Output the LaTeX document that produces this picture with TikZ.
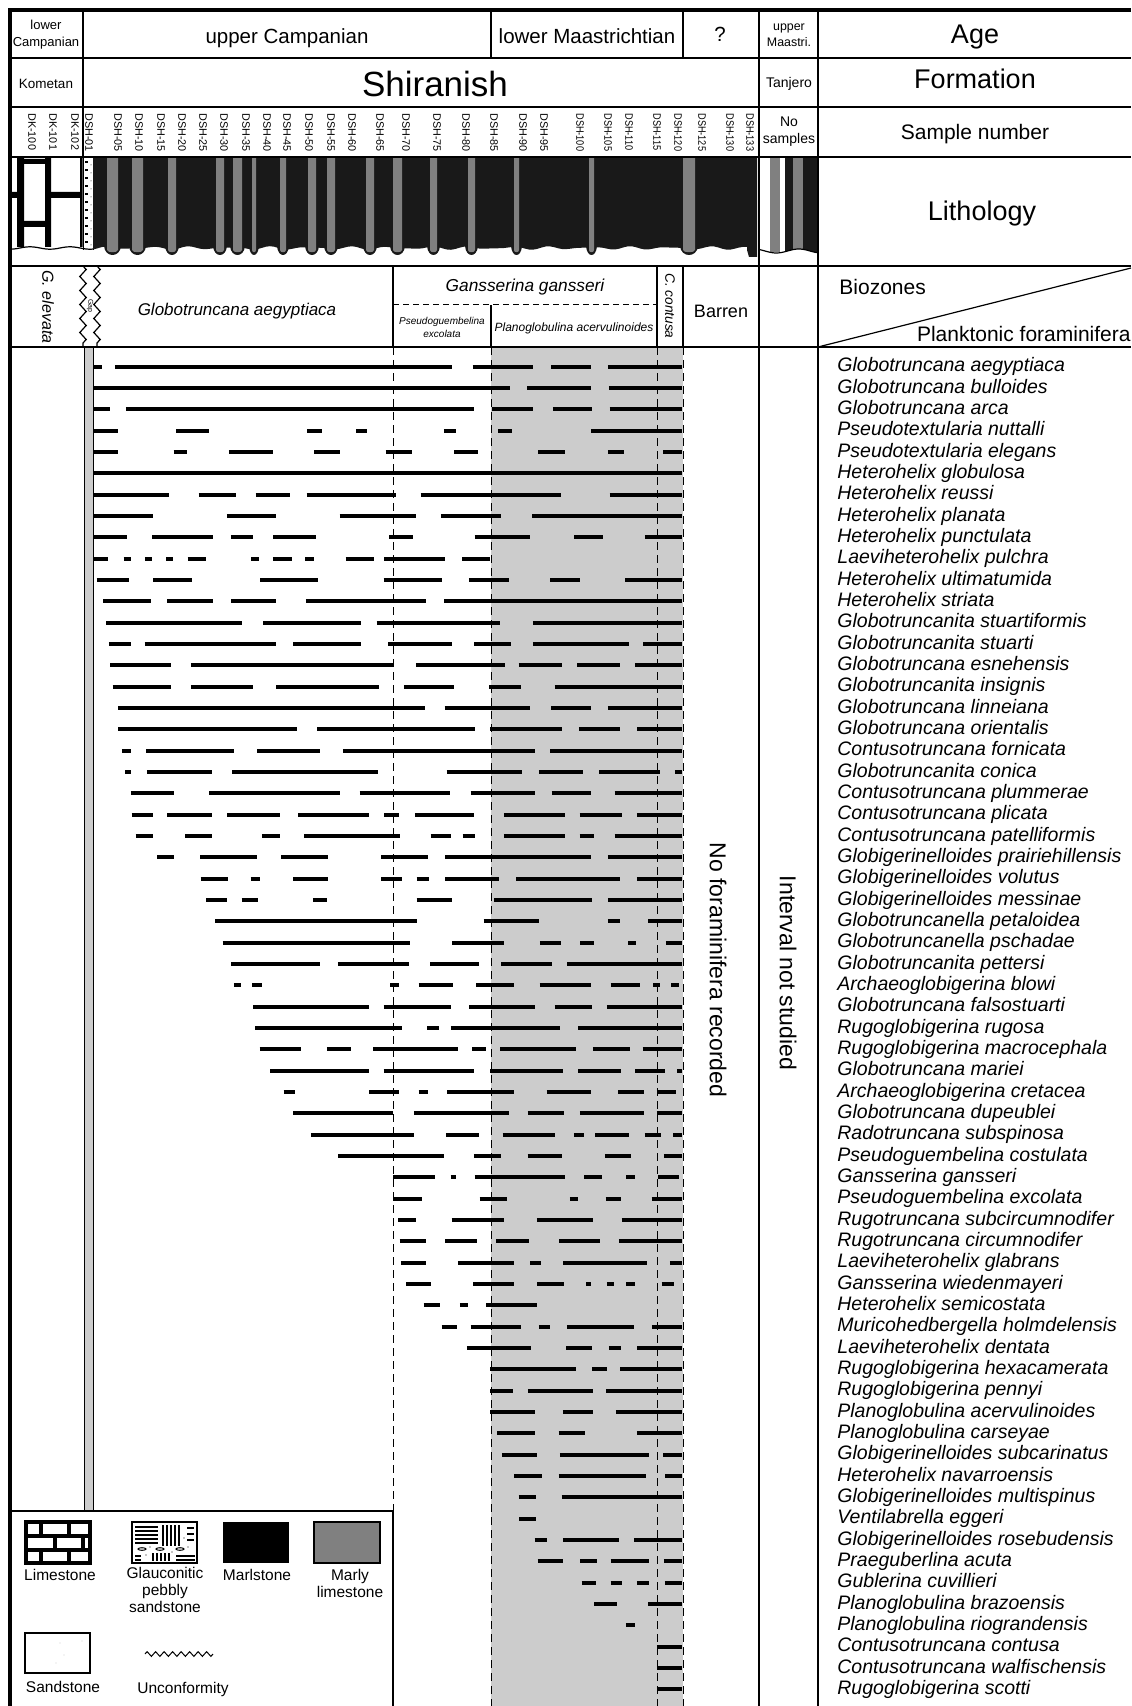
\documentclass[tikz,border=0pt]{standalone}
\usepackage{fontspec}
\setmainfont{Liberation Sans}
\usetikzlibrary{decorations.pathmorphing}
\newcommand{\myfs}[1]{\fontsize{#1pt}{#1pt}\selectfont}
\definecolor{zoneshade}{gray}{0.8}
\definecolor{mgrey}{gray}{0.5}
\definecolor{mblack}{gray}{0.1}
\begin{document}
\begin{tikzpicture}[x=0.5pt,y=-0.5pt,
  rng/.style={line width=2pt},
  bline/.style={line width=1pt},
  thinl/.style={line width=0.6pt},
  outer/.style={line width=2pt},
  dln/.style={line width=0.5pt,dash pattern=on 4pt off 2.5pt},
  lab/.style={inner sep=0pt,align=center},
  smp/.style={inner sep=0pt,rotate=-90,anchor=west,font=\myfs{5.4}},
  spc/.style={inner sep=0pt,anchor=west,text height=7.2pt,text depth=2pt,font=\myfs{9.75}\itshape},
  limeline/.style={line width=1.6pt},
  wavy/.style={decorate,decoration={zigzag,segment length=7pt,amplitude=1.6pt}},
]
\useasboundingbox (0,0) rectangle (1131,1706);
\fill[white] (0,0) rectangle (1131,1706);

% grey shading of zone
\fill[zoneshade] (491,347) rectangle (683,1706);

% ---------- Lithology ----------
% Kometan limestone (brick pattern)
\fill[black] (17,158) rectangle (24,247) (45,158) rectangle (51,247) (80,158) rectangle (82.5,247);
\fill[black] (24,159) rectangle (45,164) (10,192) rectangle (17,198) (51,192) rectangle (80,198) (24,221) rectangle (45,227);
\draw[thinl] plot[domain=10:93,samples=40] (\x,{248+1.2*sin(9*\x)});
% glauconitic sandstone column
\draw[line width=0.4pt] (83,157) -- (83,250) (93,157) -- (93,250);
\foreach \yy in {162,170,178,186,194,202,210,218,226,234,242}{
  \draw[line width=0.6pt] (85,\yy) -- (88,\yy);
  \fill (91,\yy+3) circle (0.5);
}
% marlstone
\fill[mblack] (93,157) -- (757,157) -- (757,257) -- (749,257) -- (747,250)
  -- plot[domain=747:93,samples=160] (\x,{248+1.1*sin(9*\x)+0.7*sin(13*\x)}) -- cycle;
\foreach \a/\b in {107/118,132/143,168/176,216/224,233/242,252/256,280/286,308/316,327/335,366/374,393/402,430/437,468/475,514/519,589/594,683/695}{
  \fill[mblack] (\a-3,246) .. controls (\a-2,258) and (\b+2,258) .. (\b+3,246) -- cycle;
  \fill[mgrey] (\a,157) -- (\b,157) -- (\b,250) .. controls (\b,253) and (\a,253) .. (\a,250) -- cycle;
}
% Tanjero
\fill[mgrey] (770,157) rectangle (780,252);
\fill[mblack] (785,157) rectangle (793,252);
\fill[mgrey] (793,157) rectangle (803,252);
\fill[mblack] (803,157) rectangle (817,252);
\fill[white] plot[domain=759:818,samples=30] (\x,{251+2*sin(8*\x)}) -- (818,262) -- (759,262) -- cycle;
\draw[thinl] plot[domain=759:818,samples=30] (\x,{251+2*sin(8*\x)});

% ---------- range chart ----------
\fill[zoneshade] (84,347) rectangle (93,1511);
\draw[line width=0.5pt] (84,347) -- (84,1511) (93,347) -- (93,1511);

\foreach \r/\segs in {
1/{35/57,90/957,1010/1165,1212/1315,1358/1548},
2/{35/1105,1150/1315,1360/1548},
3/{35/78,118/1013,1060/1165,1216/1318,1362/1548},
4/{35/97,248/332,584/623,710/738,936/968,1076/1111,1315/1548},
5/{35/98,241/275,383/496,602/670,786/853,962/1023,1179/1247,1358/1398,1500/1548},
6/{35/1548},
7/{35/229,305/401,452/541,583/814,876/1238,1362/1548},
8/{35/188,378/503,668/865,928/1084,1163/1548},
9/{35/122,186/342,388/444,497/608,795/856,1015/1158,1271/1345,1453/1548},
10/{35/73,112/130,167/185,222/240,277/323,441/460,496/544,579/602,683/755,782/940,983/1055},
11/{43/126,189/287,464/611,781/931,1000/1104,1210/1287,1402/1548},
12/{60/182,225/343,389/503,581/889,937/1548},
13/{68/416,471/723,763/1081,1165/1548},
14/{74/130,166/503,549/723,793/957,1014/1109,1165/1411,1449/1548},
15/{78/233,285/808,864/1093,1128/1240,1279/1388,1427/1548},
16/{84/234,285/444,505/769,833/963,1052/1135,1221/1548},
17/{98/887,938/1158,1212/1315,1358/1548},
18/{98/558,610/1017,1055/1240,1283/1390,1433/1548},
19/{108/130,170/396,456/617,676/1171,1210/1548},
20/{117/132,172/339,391/766,943/1138,1180/1295,1335/1493,1530/1548},
21/{131/241,333/669,719/952,1005/1171,1213/1315,1375/1548},
22/{133/188,225/339,379/514,561/743,782/820,861/1013,1090/1247,1285/1395,1432/1548},
23/{143/188,271/339,468/515,577/822,902/954,984/1015,1090/1247,1285/1323,1375/1548},
24/{199/241,309/456,518/639,775/896,940/1315,1358/1548},
25/{310/381,439/462,548/637,775/827,866/897,940/1078,1122/1388,1432/1548},
26/{325/378,416/458,599/636,866/956,1065/1318,1358/1548},
27/{348/868,1038/1180,1358/1390,1462/1548},
28/{367/850,958/1090,1183/1236,1287/1323,1410/1431,1507/1548},
29/{389/616,663/847,901/1027,1083/1214,1253/1548},
30/{396/414,443/469,798/821,871/960,1019/1116,1182/1314,1365/1440,1474/1492,1521/1540},
31/{445/743,781/954,1001/1170,1221/1318,1355/1548},
32/{451/827,893/923,954/1235,1281/1548},
33/{462/568,635/698,754/973,1009/1043,1081/1277,1319/1415,1447/1548},
34/{489/744,781/1013,1055/1242,1282/1392,1428/1505,1536/1548},
35/{524/552,744/820,871/896,945/1116,1200/1314,1384/1451,1484/1533},
36/{548/806,859/1103,1151/1246,1286/1451,1484/1548},
37/{594/859,941/1027,1087/1222,1270/1297,1325/1411,1452/1495,1526/1548},
38/{664/935,1013/1082,1151/1240,1350/1417,1502/1548},
39/{806/913,953/968,1015/1247,1297/1343,1405/1427,1487/1540},
40/{806/880,1028/1098,1260/1282,1352/1392,1470/1548},
41/{819/864,956/1090,1175/1320,1393/1548},
42/{822/889,939/1022,1071/1156,1233/1338,1386/1548},
43/{825/890,972/1117,1158/1185,1243/1458,1517/1548},
44/{839/904,1012/1117,1176/1246,1302/1314,1355/1374,1405/1427,1496/1528},
45/{884/927,977/999,1045/1176},
46/{930/970,1005/1135,1180/1210,1252/1426,1471/1548},
47/{995/1161,1250/1317,1360/1391,1433/1548},
48/{1055/1275,1317/1356,1390/1548},
49/{1055/1113,1152/1320,1353/1548},
50/{1055/1171,1242/1319,1378/1548},
51/{1073/1171,1231/1298,1432/1548},
52/{1085/1175,1234/1464,1500/1548},
53/{1117/1188,1231/1456,1505/1548},
54/{1128/1174,1239/1548},
55/{1130/1174},
56/{1169/1201,1242/1386,1425/1548},
57/{1177/1241,1287/1331,1365/1463,1502/1548},
58/{1290/1327,1365/1395,1432/1463,1504/1548},
59/{1323/1380,1461/1548},
60/{1404/1427},
61/{1484/1548},
62/{1484/1548},
63/{1484/1548}}{
  \pgfmathsetmacro{\yy}{366.7+(\r-1)*21.33}
  \foreach \a/\b in \segs {
    \draw[rng] ({80+0.3888*\a},\yy) -- ({80+0.3888*\b},\yy);
  }
}

% dashed zone boundaries
\draw[dln] (393,347) -- (393,1511);
\draw[dln] (491,347) -- (491,1706);
\draw[dln] (657,347) -- (657,1706);
\draw[dln] (683,347) -- (683,1706);

% ---------- grid ----------
\draw[bline] (10,58) -- (1131,58);
\draw[bline] (10,107) -- (1131,107);
\draw[bline] (10,157) -- (1131,157);
\draw[bline] (10,266) -- (1131,266);
\draw[bline] (10,347) -- (1131,347);
\draw[bline] (83,10) -- (83,157);
\draw[bline] (759,10) -- (759,1706);
\draw[bline] (818,10) -- (818,1706);
\draw[bline] (491,10) -- (491,58);
\draw[bline] (683,10) -- (683,58);
\draw[bline] (393,266) -- (393,347);
\draw[bline] (657,266) -- (657,347);
\draw[bline] (683,266) -- (683,347);
\draw[bline] (491,305) -- (491,347);
\draw[line width=0.5pt,dash pattern=on 3pt off 2pt] (393,305) -- (657,305);
\draw[thinl] (818,347) -- (1131,268);
\draw[thinl,wavy] (83,266) -- (83,347);
\draw[thinl,wavy] (97,266) -- (97,347);
% legend frame
\draw[bline] (10,1511) -- (393,1511) -- (393,1706);
% outer border
\draw[outer] (10,1706) -- (10,10) -- (1131,10);

% ---------- header texts ----------
\node[lab,font=\fontsize{6.5pt}{8.5pt}\selectfont] (t1) at (46,35) {lower\\Campanian};
\node[lab,font=\myfs{10.25}] (t2) at (287,38) {upper Campanian};
\node[lab,font=\myfs{10.25}] (t3) at (587,36) {lower Maastrichtian};
\node[lab,font=\myfs{10.25}] (t4) at (720,34) {?};
\node[lab,font=\fontsize{6.2pt}{8pt}\selectfont] (t5) at (789,35) {upper\\Maastri.};
\node[lab,font=\myfs{13.5}] (t6) at (975,37) {Age};
\node[lab,font=\myfs{6.75}] (t7) at (46,84) {Kometan};
\node[lab,font=\myfs{17.5}] (t8) at (435,84) {Shiranish};
\node[lab,font=\myfs{7}] (t9) at (789,84) {Tanjero};
\node[lab,font=\myfs{13.5}] (t10) at (975,79) {Formation};
\node[lab,font=\fontsize{7pt}{8.5pt}\selectfont] (t11) at (789,132) {No\\samples};
\node[lab,font=\myfs{10.5}] (t12) at (975,134) {Sample number};
\node[lab,font=\myfs{13.5}] (t13) at (982,214) {Lithology};
\node[lab,font=\myfs{10.5},anchor=west] (t14) at (839,287) {Biozones};
\node[lab,font=\myfs{10.5},anchor=east] (t15) at (1131,334) {Planktonic foraminifera};

\foreach \x/\t [count=\k] in {32/DK-100,53/DK-101,75/DK-102,89/DSH-01,118/DSH-05,139/DSH-10,161/DSH-15,182/DSH-20,203/DSH-25,224/DSH-30,246/DSH-35,267/DSH-40,287/DSH-45,309/DSH-50,331/DSH-55,352/DSH-60,380/DSH-65,406/DSH-70,437/DSH-75,466/DSH-80,494/DSH-85,523/DSH-90,544/DSH-95}
  \node[smp] (smp\k) at (\x,113) {\t};
\foreach \x/\t [count=\k] in {580/DSH-100,608/DSH-105,629/DSH-110,657/DSH-115,678/DSH-120,702/DSH-125,730/DSH-130,750/DSH-133}
  \node[smp] (smq\k) at (\x,113) {\scalebox{0.85}[1]{\t}};

% biozone texts
\node[lab,rotate=-90,font=\myfs{8}\itshape] (z1) at (48,307) {G. elevata};
\node[lab,rotate=-90,font=\myfs{3.5}] (z0) at (90,306) {Gap};
\node[lab,font=\myfs{8.5}\itshape] (z2) at (237,311) {Globotruncana aegyptiaca};
\node[lab,font=\myfs{8.65}\itshape] (z3) at (525,287) {Gansserina gansseri};
\node[lab,font=\fontsize{5pt}{6.5pt}\selectfont\itshape] (z4) at (442,327) {Pseudoguembelina\\excolata};
\node[lab,font=\myfs{6}\itshape] (z5) at (574,328) {Planoglobulina acervulinoides};
\node[lab,rotate=-90,font=\myfs{6.8}\itshape] (z6) at (670,306) {C. contusa};
\node[lab,font=\myfs{9}] (z7) at (721,311) {Barren};
\node[lab,rotate=-90,font=\myfs{11.5}] (z8) at (718,970) {No foraminifera recorded};
\node[lab,rotate=-90,font=\myfs{11.5}] (z9) at (788,973) {Interval not studied};

% species names
\foreach \n [count=\i] in {Globotruncana aegyptiaca,Globotruncana bulloides,Globotruncana arca,Pseudotextularia nuttalli,Pseudotextularia elegans,Heterohelix globulosa,Heterohelix reussi,Heterohelix planata,Heterohelix punctulata,Laeviheterohelix pulchra,Heterohelix ultimatumida,Heterohelix striata,Globotruncanita stuartiformis,Globotruncanita stuarti,Globotruncana esnehensis,Globotruncanita insignis,Globotruncana linneiana,Globotruncana orientalis,Contusotruncana fornicata,Globotruncanita conica,Contusotruncana plummerae,Contusotruncana plicata,Contusotruncana patelliformis,Globigerinelloides prairiehillensis,Globigerinelloides volutus,Globigerinelloides messinae,Globotruncanella petaloidea,Globotruncanella pschadae,Globotruncanita pettersi,Archaeoglobigerina blowi,Globotruncana falsostuarti,Rugoglobigerina rugosa,Rugoglobigerina macrocephala,Globotruncana mariei,Archaeoglobigerina cretacea,Globotruncana dupeublei,Radotruncana subspinosa,Pseudoguembelina costulata,Gansserina gansseri,Pseudoguembelina excolata,Rugotruncana subcircumnodifer,Rugotruncana circumnodifer,Laeviheterohelix glabrans,Gansserina wiedenmayeri,Heterohelix semicostata,Muricohedbergella holmdelensis,Laeviheterohelix dentata,Rugoglobigerina hexacamerata,Rugoglobigerina pennyi,Planoglobulina acervulinoides,Planoglobulina carseyae,Globigerinelloides subcarinatus,Heterohelix navarroensis,Globigerinelloides multispinus,Ventilabrella eggeri,Globigerinelloides rosebudensis,Praeguberlina acuta,Gublerina cuvillieri,Planoglobulina brazoensis,Planoglobulina riograndensis,Contusotruncana contusa,Contusotruncana walfischensis,Rugoglobigerina scotti}
  \node[spc] (sp\i) at (837,{366.7+(\i-1)*21.33}) {\n};

% ---------- legend ----------
% limestone
\fill[white] (26,1522) rectangle (90,1563);
\draw[limeline] (26,1522) rectangle (90,1563);
\draw[limeline] (26,1536) -- (90,1536) (26,1550) -- (90,1550);
\draw[limeline] (41,1522) -- (41,1536) (69,1522) -- (69,1536);
\draw[limeline] (55,1536) -- (55,1550) (83,1536) -- (83,1550);
\draw[limeline] (41,1550) -- (41,1563) (69,1550) -- (69,1563);
\node[lab,font=\myfs{7.75},anchor=north] (l1) at (60,1569) {Limestone};
% glauconitic pebbly sandstone
\draw[line width=1pt] (132,1522) rectangle (197,1563);
\foreach \yy in {1527,1531,1535,1539,1543}{\draw[line width=0.7pt] (135,\yy) -- (158,\yy);}
\foreach \xx in {163,167,171,175,179}{\draw[line width=0.7pt] (\xx,1525) -- (\xx,1546);}
\foreach \yy in {1528,1534,1540}{\draw[line width=0.7pt] (187,\yy) -- (194,\yy);}
\foreach \xx in {142,160,180}{\draw[line width=0.5pt] (\xx,1549) ellipse (4 and 1.3);}
\foreach \xx in {153,157,161,165,169}{\draw[line width=0.6pt] (\xx,1553) -- (\xx,1561);}
\draw[line width=0.7pt] (176,1556) -- (195,1556) (176,1560) -- (195,1560) (135,1556) -- (141,1556) (135,1560) -- (141,1560);
\fill (146,1555) circle (0.6) (150,1547) circle (0.6) (172,1552) circle (0.6) (188,1547) circle (0.6) (184,1538) circle (0.6);
\node[lab,font=\fontsize{7.75pt}{8.4pt}\selectfont,anchor=north] (l2) at (165,1567) {Glauconitic\\pebbly\\sandstone};
% marlstone
\fill[black] (223,1522) rectangle (289,1563);
\node[lab,font=\myfs{7.75},anchor=north] (l3) at (257,1569) {Marlstone};
% marly limestone
\fill[mgrey] (314,1522) rectangle (380,1563);
\draw[line width=1pt] (314,1522) rectangle (380,1563);
\node[lab,font=\fontsize{7.75pt}{8.6pt}\selectfont,anchor=north] (l4) at (350,1569) {Marly\\limestone};
% sandstone
\draw[line width=1pt] (25,1633) rectangle (90,1673);
\fill[gray] (60,1643) circle (0.3) (82,1641) circle (0.3) (64,1655) circle (0.3) (56,1663) circle (0.3);
\node[lab,font=\myfs{7.75},anchor=north] (l5) at (63,1681) {Sandstone};
% unconformity
\draw[line width=0.5pt,decorate,decoration={zigzag,segment length=4.25pt,amplitude=1.2pt}] (145,1654) -- (213,1654);
\node[lab,font=\myfs{7.75},anchor=north] (l6) at (183,1682) {Unconformity};
\end{tikzpicture}
\end{document}
